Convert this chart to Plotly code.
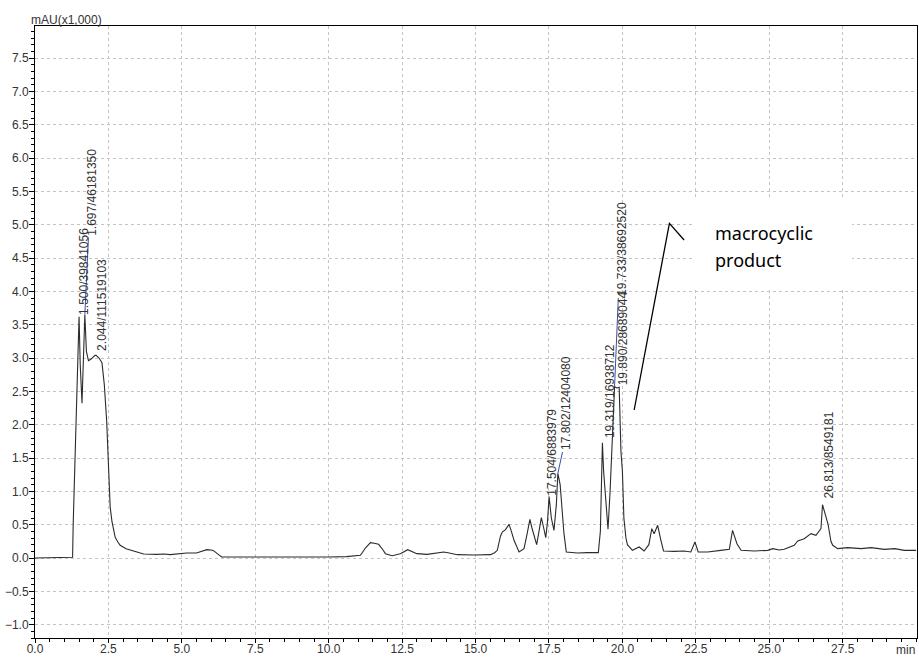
import plotly.graph_objects as go

# Chromatogram trace: retention time (min) and absorbance (mAU x1,000)
time_min = [
    0.0, 1.27, 1.28, 1.30, 1.36, 1.42, 1.46, 1.50, 1.54, 1.60, 1.65, 1.697, 1.75,
    1.82, 1.90, 2.00, 2.044, 2.08, 2.18, 2.28, 2.36, 2.44, 2.50, 2.56, 2.62, 2.67,
    2.73, 2.82, 2.90, 3.10, 3.35, 3.70, 4.15, 4.40, 4.60, 4.90, 5.17, 5.50, 5.70,
    5.85, 6.00, 6.08, 6.25, 6.36, 7.0, 8.0, 9.0, 10.0, 10.6, 11.08, 11.25, 11.42,
    11.55, 11.70, 11.85, 11.93, 12.16, 12.44, 12.69, 12.85, 13.0, 13.35, 13.65,
    13.92, 14.1, 14.38, 14.95, 15.51, 15.65, 15.74, 15.85, 15.91, 16.02, 16.14,
    16.22, 16.31, 16.48, 16.65, 16.75, 16.85, 16.92, 16.99, 17.08, 17.16, 17.24,
    17.32, 17.39, 17.45, 17.504, 17.58, 17.67, 17.75, 17.802, 17.88, 17.95, 18.01,
    18.09, 18.47, 18.8, 19.18, 19.25, 19.28, 19.319, 19.36, 19.42, 19.51, 19.58,
    19.65, 19.733, 19.81, 19.89, 19.95, 20.0, 20.05, 20.12, 20.17, 20.34, 20.57,
    20.74, 20.9, 21.0, 21.08, 21.2, 21.31, 21.4, 21.76, 22.1, 22.33, 22.47, 22.58,
    22.9, 23.35, 23.64, 23.75, 23.9, 24.04, 24.49, 24.95, 25.12, 25.34, 25.51,
    25.85, 25.97, 26.19, 26.42, 26.59, 26.76, 26.813, 26.9, 27.0, 27.1, 27.16,
    27.33, 27.67, 28.13, 28.47, 28.92, 29.27, 29.6, 30.0,
]
absorbance = [
    0.0, 0.0, 0.01, 0.5, 1.6, 2.4, 3.0, 3.62, 2.9, 2.32, 3.0, 3.65, 3.1,
    2.96, 2.98, 3.03, 3.04, 3.04, 3.0, 2.93, 2.6, 2.06, 1.4, 0.76, 0.55, 0.45,
    0.31, 0.24, 0.19, 0.14, 0.11, 0.06, 0.055, 0.06, 0.05, 0.065, 0.075, 0.075, 0.1,
    0.125, 0.12, 0.11, 0.05, 0.015, 0.015, 0.012, 0.012, 0.015, 0.02, 0.04, 0.15, 0.23,
    0.22, 0.205, 0.12, 0.065, 0.035, 0.065, 0.125, 0.1, 0.065, 0.055, 0.075,
    0.09, 0.075, 0.05, 0.045, 0.05, 0.08, 0.115, 0.33, 0.39, 0.425, 0.505,
    0.4, 0.265, 0.09, 0.14, 0.35, 0.58, 0.45, 0.34, 0.2, 0.4, 0.605,
    0.45, 0.305, 0.55, 0.92, 0.6, 0.415, 0.8, 1.27, 1.1, 0.7, 0.365,
    0.09, 0.075, 0.08, 0.08, 0.4, 1.0, 1.73, 1.3, 0.9, 0.43, 1.0,
    1.8, 2.57, 2.55, 2.56, 1.6, 1.3, 0.6, 0.3, 0.2, 0.115, 0.165,
    0.105, 0.2, 0.44, 0.365, 0.49, 0.265, 0.105, 0.1, 0.105, 0.09, 0.24, 0.09,
    0.09, 0.115, 0.13, 0.415, 0.215, 0.115, 0.105, 0.115, 0.14, 0.12, 0.13,
    0.19, 0.255, 0.29, 0.365, 0.34, 0.44, 0.8, 0.66, 0.51, 0.25, 0.19,
    0.14, 0.155, 0.14, 0.155, 0.13, 0.14, 0.115, 0.115,
]

# Integrated peaks: label text, retention time and height
peak_labels = ["1.500/39841056", "1.697/46181350", "2.044/111519103",
               "17.504/6883979", "17.802/12404080", "19.319/16938712",
               "19.890/28689044", "19.733/38692520", "26.813/8549181"]
peak_times = [1.500, 1.697, 2.044, 17.504, 17.802, 19.319, 19.890, 19.733, 26.813]
peak_heights = [3.62, 3.65, 3.04, 0.92, 1.27, 1.73, 2.56, 2.57, 0.8]

# Label anchor points (bottom of the rotated text)
label_x = [1.67, 1.94, 2.30, 17.60, 18.08, 19.58, 20.02, 19.98, 27.03]
label_y = [3.61, 4.81, 3.07, 0.91, 1.59, 1.77, 2.56, 3.90, 0.87]
# labels that use a blue leader line to the peak apex
blue_leader = [False, True, False, False, True, False, False, True, False]

x_ticks = [0.0, 2.5, 5.0, 7.5, 10.0, 12.5, 15.0, 17.5, 20.0, 22.5, 25.0, 27.5]
y_ticks = [-1.0, -0.5, 0.0, 0.5, 1.0, 1.5, 2.0, 2.5, 3.0, 3.5, 4.0, 4.5,
           5.0, 5.5, 6.0, 6.5, 7.0, 7.5]

LABEL_FONT = dict(family="Liberation Sans, Arial, sans-serif", size=12, color="#333333")
GRID = "#c4c4c4"

fig = go.Figure()
fig.add_trace(go.Scatter(
    x=time_min, y=absorbance, mode="lines",
    line=dict(color="#2b2b2b", width=1.1),
    hoverinfo="skip", showlegend=False,
))

annotations = []
shapes = []
for text, tx, ty, lx, ly, blue in zip(peak_labels, peak_times, peak_heights,
                                      label_x, label_y, blue_leader):
    annotations.append(dict(
        x=lx, y=ly, xref="x", yref="y", text=text, showarrow=False,
        textangle=-90, xanchor="center", yanchor="bottom", font=LABEL_FONT,
    ))
    if blue:
        shapes.append(dict(type="line", xref="x", yref="y", x0=tx, y0=ty,
                           x1=lx - 0.12, y1=ly, line=dict(color="#3a4fa8", width=1)))

# pointer to the macrocyclic product peak
shapes.append(dict(type="path", xref="x", yref="y",
                   path="M 20.40 2.22 L 21.60 5.02 L 22.10 4.77",
                   line=dict(color="black", width=1.3)))
# white backing box for the callout text
shapes.append(dict(type="rect", xref="x", yref="y", x0=22.47, x1=27.82,
                   y0=4.02, y1=5.37, fillcolor="white", line=dict(width=0),
                   layer="above"))

callout_font = dict(family="Noto Sans, Open Sans, sans-serif", size=18, color="black")
annotations.append(dict(x=23.1, y=4.87, xref="x", yref="y", text="macrocyclic",
                        showarrow=False, xanchor="left", yanchor="middle", font=callout_font))
annotations.append(dict(x=23.1, y=4.47, xref="x", yref="y", text="product",
                        showarrow=False, xanchor="left", yanchor="middle", font=callout_font))

# axis captions
annotations.append(dict(x=-0.007, y=1.01, xref="paper", yref="paper", text="mAU(x1,000)",
                        showarrow=False, xanchor="left", yanchor="middle", font=LABEL_FONT))
annotations.append(dict(x=1.0, y=-0.0196, xref="paper", yref="paper", text="min",
                        showarrow=False, xanchor="right", yanchor="middle", font=LABEL_FONT))

fig.update_layout(
    width=919, height=658,
    margin=dict(l=35, r=2, t=26, b=20, autoexpand=False),
    paper_bgcolor="white", plot_bgcolor="white",
    annotations=annotations, shapes=shapes,
    showlegend=False,
)
fig.update_xaxes(
    range=[0, 30.03], tickvals=x_ticks, tickformat=".1f", automargin=False,
    showline=True, linecolor="black", linewidth=1, mirror=True,
    ticks="outside", ticklen=4, tickcolor="black", tickwidth=1,
    ticklabelstandoff=-4,
    minor=dict(dtick=0.5, ticks="outside", ticklen=3, tickcolor="black", showgrid=False),
    showgrid=True, gridcolor=GRID, griddash="3px,3px", gridwidth=1,
    zeroline=False, tickfont=LABEL_FONT,
)
fig.update_yaxes(
    range=[-1.2, 7.98], tickvals=y_ticks, tickformat=".1f", automargin=False,
    showline=True, linecolor="black", linewidth=1, mirror=True,
    ticks="outside", ticklen=5, tickcolor="black", tickwidth=1,
    ticklabelstandoff=-2,
    minor=dict(dtick=0.1, ticks="outside", ticklen=3, tickcolor="black", showgrid=False),
    showgrid=True, gridcolor=GRID, griddash="3px,3px", gridwidth=1,
    zeroline=False, tickfont=LABEL_FONT,
)

fig.write_html("out.html")
